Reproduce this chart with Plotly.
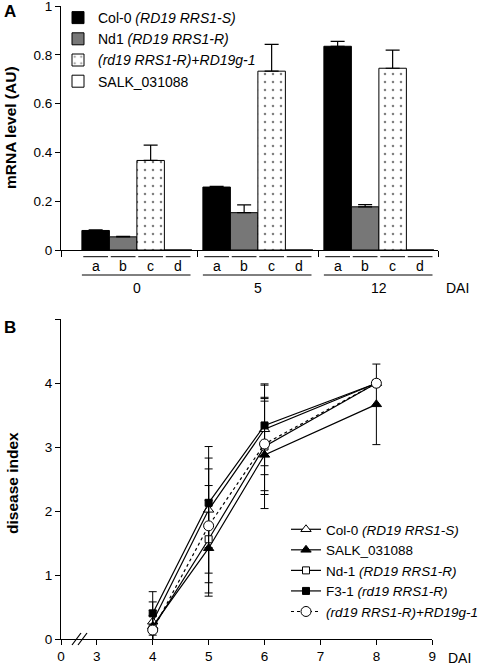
import plotly.graph_objects as go

W, H = 488, 665
FONT = "Liberation Sans, Arial, sans-serif"

# ---------------- Panel A data ----------------
groups = ["0", "5", "12"]
sublabels = ["a", "b", "c", "d"]
seriesA_names = ["Col-0 <i>(RD19 RRS1-S)</i>", "Nd1 <i>(RD19 RRS1-R)</i>",
                 "<i>(rd19 RRS1-R)+RD19g-1</i>", "SALK_031088"]
col0_mrna = [0.080, 0.258, 0.835]
col0_err = [0.003, 0.003, 0.020]
nd1_mrna = [0.054, 0.153, 0.177]
nd1_err = [0.002, 0.032, 0.009]
comp_mrna = [0.367, 0.733, 0.745]
comp_err = [0.063, 0.110, 0.074]
salk_mrna = [0.0, 0.0, 0.0]
salk_err = [0.0, 0.0, 0.0]
yticksA = [0, 0.2, 0.4, 0.6, 0.8, 1]
yticktextA = ["0", "0.2", "0.4", "0.6", "0.8", "1"]

# ---------------- Panel B data ----------------
days = [4, 5, 6, 8]
xtick_days = [0, 3, 4, 5, 6, 7, 8, 9]
seriesB_names = ["Col-0 <i>(RD19 RRS1-S)</i>", "SALK_031088", "Nd-1 <i>(RD19 RRS1-R)</i>",
                 "F3-1 <i>(rd19 RRS1-R)</i>", "<i>(rd19 RRS1-R)+RD19g-1</i>"]
col0_di = [0.27, 2.02, 3.28, 4.00]
col0_di_err = [0.31, 0.99, 0.71, 0.0]
salk_di = [0.20, 1.42, 2.88, 3.67]
salk_di_err = [0.25, 0.75, 0.84, 0.63]
nd1_di = [0.17, 1.56, 3.01, 4.00]
nd1_di_err = [0.20, 0.84, 0.75, 0.0]
f31_di = [0.40, 2.13, 3.34, 4.00]
f31_di_err = [0.34, 0.70, 0.63, 0.0]
comp_di = [0.14, 1.77, 3.05, 4.00]
comp_di_err = [0.22, 0.89, 0.73, 0.0]

def py(p):
    return 1 - p / H

def px(p):
    return p / W

fig = go.Figure()

GSTEP = 4.4
def slot(g, k):
    return g * GSTEP + k

barsA = [
    (col0_mrna, col0_err, dict(color="black", line=dict(color="black", width=1))),
    (nd1_mrna, nd1_err, dict(color="#777777", line=dict(color="black", width=1))),
    (comp_mrna, comp_err, dict(color="white", line=dict(color="black", width=1),
                               pattern=dict(shape=".", fgcolor="black", bgcolor="white",
                                            size=8, solidity=0.08))),
    (salk_mrna, salk_err, dict(color="white", line=dict(color="black", width=1))),
]
for k, (vals, errs, mk) in enumerate(barsA):
    fig.add_trace(go.Bar(
        x=[slot(g, k) for g in range(len(groups))], y=vals, width=1.0,
        name=seriesA_names[k], marker=mk,
        error_y=dict(type="data", array=errs, arrayminus=[0]*len(errs), symmetric=False,
                     color="black", thickness=1.2, width=7, visible=any(e > 0 for e in errs)),
        xaxis="x", yaxis="y", legend="legend", showlegend=True))

# ---------------- Panel B traces ----------------
X0 = 2.36  # plotted position of day 0 (broken axis)
def bx(d):
    return X0 if d == 0 else d

styles = [
    dict(symbol="triangle-up", color="white", size=9, dash="solid"),
    dict(symbol="triangle-up", color="black", size=9, dash="solid"),
    dict(symbol="square", color="white", size=7, dash="solid"),
    dict(symbol="square", color="black", size=7, dash="solid"),
    dict(symbol="circle", color="white", size=10, dash="dot"),
]
seriesB = [(col0_di, col0_di_err), (salk_di, salk_di_err), (nd1_di, nd1_di_err),
           (f31_di, f31_di_err), (comp_di, comp_di_err)]
for i, (vals, errs) in enumerate(seriesB):
    st = styles[i]
    fig.add_trace(go.Scatter(
        x=days, y=vals, mode="lines+markers", name=seriesB_names[i],
        line=dict(color="black", width=1.2, dash=st["dash"]),
        marker=dict(symbol=st["symbol"], color=st["color"], size=st["size"],
                    line=dict(color="black", width=1)),
        error_y=dict(type="data", array=errs, color="black", thickness=1, width=4),
        xaxis="x2", yaxis="y2", legend="legend2", cliponaxis=False))

# ---------------- layout ----------------
xA_left, xA_right = -1.26, 12.45
sepA = [slot(g, 3) + (GSTEP - 3) / 2 for g in range(len(groups) - 1)]

fig.update_layout(
    width=W, height=H, margin=dict(l=0, r=0, t=0, b=0),
    paper_bgcolor="white", plot_bgcolor="white",
    font=dict(family=FONT, size=13, color="black"),
    barmode="overlay", showlegend=True,
    xaxis=dict(domain=[px(61), px(438)], range=[xA_left, xA_right], showgrid=False,
               zeroline=False, showline=True, linecolor="black", linewidth=1.2,
               tickvals=[xA_left] + sepA + [xA_right], ticktext=[""] * (len(sepA) + 2),
               ticks="outside", ticklen=6, tickcolor="black", automargin=False, anchor="y"),
    yaxis=dict(domain=[py(250), py(6)], range=[0, 1.0001], showgrid=False, zeroline=False,
               showline=True, linecolor="black", linewidth=1.2, tickvals=yticksA,
               ticktext=yticktextA, ticks="outside", ticklen=5, tickcolor="black",
               tickfont=dict(size=13.5), automargin=False, anchor="x",
               ticklabeloverflow="allow"),
    xaxis2=dict(domain=[px(61), px(432.3)], range=[X0, 9], showgrid=False, zeroline=False,
                showline=True, linecolor="black", linewidth=1.2,
                tickvals=[bx(d) for d in xtick_days], ticktext=[str(d) for d in xtick_days],
                ticks="outside", ticklen=5, tickcolor="black", tickfont=dict(size=13.5),
                automargin=False, anchor="y2", ticklabeloverflow="allow"),
    yaxis2=dict(domain=[py(639), py(319.3)], range=[0, 5], showgrid=False, zeroline=False,
                showline=True, linecolor="black", linewidth=1.2,
                tickvals=[0, 1, 2, 3, 4, 5], ticktext=["0", "1", "2", "3", "4", ""],
                ticks="outside", ticklen=5, tickcolor="black", tickfont=dict(size=13.5),
                automargin=False, anchor="x2"),
    legend=dict(x=px(58), y=py(2), xanchor="left", yanchor="top", bgcolor="rgba(0,0,0,0)",
                font=dict(size=14), traceorder="normal", itemwidth=30),
    legend2=dict(x=px(286), y=py(514), xanchor="left", yanchor="top", bgcolor="rgba(0,0,0,0)",
                 font=dict(size=13.5), traceorder="normal", itemwidth=30),
)

def ann(x, y, text, size, xref="paper", angle=0):
    return dict(x=x, y=y, xref=xref, yref="paper", text=text, showarrow=False,
                xanchor="center", yanchor="middle", textangle=angle,
                font=dict(size=size))

annotations = []
shapes = []
for g, gname in enumerate(groups):
    for k, s in enumerate(sublabels):
        xc = slot(g, k)
        shapes.append(dict(type="line", xref="x", yref="paper", x0=xc - 0.45, x1=xc + 0.45,
                           y0=py(256.7), y1=py(256.7), line=dict(color="black", width=1)))
        annotations.append(ann(xc, py(265.5), s, 14, xref="x"))
    shapes.append(dict(type="line", xref="x", yref="paper", x0=slot(g, 0) - 0.5,
                       x1=slot(g, 3) + 0.45, y0=py(275), y1=py(275),
                       line=dict(color="black", width=1)))
    annotations.append(ann(slot(g, 1.5), py(288), gname, 14, xref="x"))
annotations += [
    ann(px(457), py(288), "DAI", 14),
    ann(px(10), py(12), "<b>A</b>", 17),
    ann(px(10), py(128), "<b>mRNA level (AU)</b>", 15.5, angle=-90),
    ann(px(10), py(327), "<b>B</b>", 17),
    ann(px(12), py(483), "<b>disease index</b>", 15.5, angle=-90),
    ann(px(459), py(658), "DAI", 14),
]
for off in (0, 6):
    shapes.append(dict(type="line", xref="paper", yref="paper",
                       x0=px(72 + off), x1=px(81 + off), y0=py(645), y1=py(633),
                       line=dict(color="black", width=1.2)))

fig.update_layout(annotations=annotations, shapes=shapes)
fig.write_html("out.html", config={"displayModeBar": False},
               post_script="document.body.style.margin='0';document.body.style.overflow='hidden';")
